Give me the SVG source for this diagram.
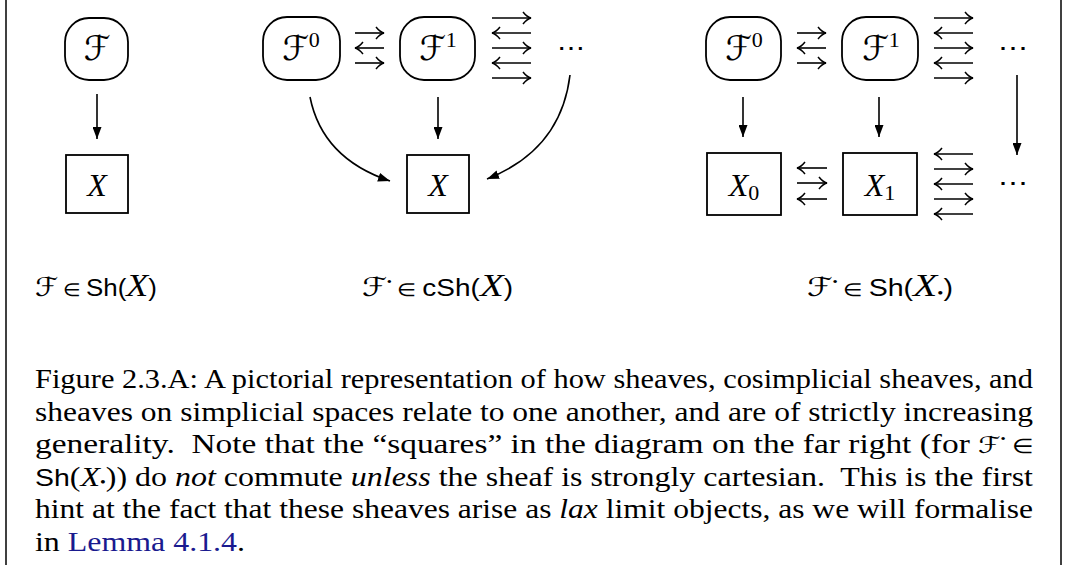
<svg xmlns="http://www.w3.org/2000/svg" width="1069" height="565" viewBox="0 0 1069 565">
<defs>
<style>
.node{fill:#fff;stroke:#000;stroke-width:1.8}
.ar{stroke:#000;stroke-width:1.6;fill:none}
.m{font-family:"Liberation Serif",serif;font-style:italic;font-size:32px}
.scr{font-family:"DejaVu Sans",sans-serif;font-style:italic}
.sans{font-family:"Liberation Sans","DejaVu Sans",sans-serif;font-style:normal}
.up{font-family:"Liberation Serif",serif;font-style:normal}
.cap{font-family:"Liberation Serif",serif;font-size:27px;fill:#000}
.lab{font-family:"Liberation Sans",sans-serif;font-size:23px}
.dots{font-family:"DejaVu Sans",sans-serif;font-size:24px}
</style>
<marker id="tri" viewBox="0 0 12 9" refX="12" refY="4.5" markerWidth="12" markerHeight="9" markerUnits="userSpaceOnUse" orient="auto"><path d="M0,0 L12,4.5 L0,9 z" fill="#000"/></marker>
<marker id="tex" viewBox="-10 -7 11 14" refX="0" refY="0" markerWidth="11" markerHeight="14" markerUnits="userSpaceOnUse" orient="auto"><path d="M-8,-6 Q-4,-1 0,0 Q-4,1 -8,6" fill="none" stroke="#000" stroke-width="1.5"/></marker>
</defs>
<rect x="0" y="0" width="1069" height="565" fill="#fff"/>
<line x1="6" y1="0" x2="6" y2="565" stroke="#000" stroke-width="1.5"/>
<line x1="1061" y1="0" x2="1061" y2="565" stroke="#000" stroke-width="1.5"/>

<!-- left diagram -->
<g id="n-F">
<rect class="node" x="65" y="18" width="63" height="62" rx="24"/>
<text class="scr" x="97" y="60" font-size="34" text-anchor="middle">ℱ</text>
</g>
<g id="n-X">
<rect class="node" x="66" y="155" width="62" height="58"/>
<text class="m" x="97" y="196" text-anchor="middle">X</text>
</g>

<!-- middle diagram -->
<g id="n-F0m">
<rect class="node" x="263" y="17" width="77" height="63" rx="24"/>
<text x="301" y="60" text-anchor="middle"><tspan class="scr" font-size="34">ℱ</tspan><tspan class="up" font-size="22" dy="-13">0</tspan></text>
</g>
<g id="n-F1m">
<rect class="node" x="400" y="17" width="75" height="63" rx="24"/>
<text x="438" y="60" text-anchor="middle"><tspan class="scr" font-size="34">ℱ</tspan><tspan class="up" font-size="22" dy="-13">1</tspan></text>
</g>
<g id="n-Xm">
<rect class="node" x="407" y="155" width="62" height="58"/>
<text class="m" x="438" y="196" text-anchor="middle">X</text>
</g>
<g id="n-dotsm"><text class="dots" x="557" y="56" textLength="28" lengthAdjust="spacingAndGlyphs">⋯</text></g>

<!-- right diagram -->
<g id="n-F0r">
<rect class="node" x="706" y="17" width="75" height="63" rx="24"/>
<text x="744" y="60" text-anchor="middle"><tspan class="scr" font-size="34">ℱ</tspan><tspan class="up" font-size="22" dy="-13">0</tspan></text>
</g>
<g id="n-F1r">
<rect class="node" x="842" y="17" width="76" height="63" rx="24"/>
<text x="881" y="60" text-anchor="middle"><tspan class="scr" font-size="34">ℱ</tspan><tspan class="up" font-size="22" dy="-13">1</tspan></text>
</g>
<g id="n-X0">
<rect class="node" x="707" y="153" width="74" height="62"/>
<text x="744" y="196" text-anchor="middle"><tspan class="m">X</tspan><tspan class="up" font-size="22" dy="4">0</tspan></text>
</g>
<g id="n-X1">
<rect class="node" x="843" y="153" width="74" height="62"/>
<text x="880" y="196" text-anchor="middle"><tspan class="m">X</tspan><tspan class="up" font-size="22" dy="4">1</tspan></text>
</g>
<g id="n-dotsr1"><text class="dots" x="998" y="56" textLength="30" lengthAdjust="spacingAndGlyphs">⋯</text></g>
<g id="n-dotsr2"><text class="dots" x="998" y="191" textLength="30" lengthAdjust="spacingAndGlyphs">⋯</text></g>

<g id="connectors">
<!-- left -->
<line class="ar" x1="97" y1="94" x2="97" y2="139" marker-end="url(#tri)"/>
<!-- middle -->
<line class="ar" x1="438" y1="97" x2="438" y2="139" marker-end="url(#tri)"/>
<path class="ar" d="M310,97 C318,137 345,166 390,181" marker-end="url(#tri)"/>
<path class="ar" d="M570,75 C564,125 535,160 487,179" marker-end="url(#tri)"/>
<line class="ar" x1="355" y1="33" x2="384" y2="33" marker-end="url(#tex)"/>
<line class="ar" x1="384" y1="48" x2="355" y2="48" marker-end="url(#tex)"/>
<line class="ar" x1="355" y1="63" x2="384" y2="63" marker-end="url(#tex)"/>
<line class="ar" x1="492" y1="18" x2="531" y2="18" marker-end="url(#tex)"/>
<line class="ar" x1="531" y1="33" x2="492" y2="33" marker-end="url(#tex)"/>
<line class="ar" x1="492" y1="48" x2="531" y2="48" marker-end="url(#tex)"/>
<line class="ar" x1="531" y1="63" x2="492" y2="63" marker-end="url(#tex)"/>
<line class="ar" x1="492" y1="78" x2="531" y2="78" marker-end="url(#tex)"/>
<!-- right -->
<line class="ar" x1="743" y1="97" x2="743" y2="137" marker-end="url(#tri)"/>
<line class="ar" x1="879" y1="97" x2="879" y2="137" marker-end="url(#tri)"/>
<line class="ar" x1="1017" y1="75" x2="1017" y2="155" marker-end="url(#tri)"/>
<line class="ar" x1="797" y1="33" x2="826" y2="33" marker-end="url(#tex)"/>
<line class="ar" x1="826" y1="48" x2="797" y2="48" marker-end="url(#tex)"/>
<line class="ar" x1="797" y1="63" x2="826" y2="63" marker-end="url(#tex)"/>
<line class="ar" x1="934" y1="18" x2="973" y2="18" marker-end="url(#tex)"/>
<line class="ar" x1="973" y1="33" x2="934" y2="33" marker-end="url(#tex)"/>
<line class="ar" x1="934" y1="48" x2="973" y2="48" marker-end="url(#tex)"/>
<line class="ar" x1="973" y1="63" x2="934" y2="63" marker-end="url(#tex)"/>
<line class="ar" x1="934" y1="78" x2="973" y2="78" marker-end="url(#tex)"/>
<line class="ar" x1="827" y1="168" x2="797" y2="168" marker-end="url(#tex)"/>
<line class="ar" x1="797" y1="183" x2="827" y2="183" marker-end="url(#tex)"/>
<line class="ar" x1="827" y1="199" x2="797" y2="199" marker-end="url(#tex)"/>
<line class="ar" x1="973" y1="154" x2="934" y2="154" marker-end="url(#tex)"/>
<line class="ar" x1="934" y1="169" x2="973" y2="169" marker-end="url(#tex)"/>
<line class="ar" x1="973" y1="184" x2="934" y2="184" marker-end="url(#tex)"/>
<line class="ar" x1="934" y1="199" x2="973" y2="199" marker-end="url(#tex)"/>
<line class="ar" x1="973" y1="214" x2="934" y2="214" marker-end="url(#tex)"/>
</g>

<!-- labels -->
<g id="labels">
<text class="lab" x="35" y="296" textLength="122" lengthAdjust="spacingAndGlyphs"><tspan class="scr" font-size="26">ℱ</tspan><tspan class="up" font-size="18"> ∈ </tspan><tspan class="sans">Sh(</tspan><tspan class="m" font-size="26">X</tspan><tspan class="sans">)</tspan></text>
<text class="lab" x="362" y="296" textLength="151" lengthAdjust="spacingAndGlyphs"><tspan class="scr" font-size="26">ℱ</tspan><tspan class="up" font-size="12" dy="-10">•</tspan><tspan class="up" font-size="18" dy="10"> ∈ </tspan><tspan class="sans">cSh(</tspan><tspan class="m" font-size="26">X</tspan><tspan class="sans">)</tspan></text>
<text class="lab" x="807" y="296" textLength="146" lengthAdjust="spacingAndGlyphs"><tspan class="scr" font-size="26">ℱ</tspan><tspan class="up" font-size="12" dy="-10">•</tspan><tspan class="up" font-size="18" dy="10"> ∈ </tspan><tspan class="sans">Sh(</tspan><tspan class="m" font-size="26">X</tspan><tspan class="up" font-size="14" dy="2">•</tspan><tspan class="sans" dy="-2">)</tspan></text>
</g>

<!-- caption -->
<g id="caption">
<text class="cap" x="35" y="388" textLength="998" lengthAdjust="spacingAndGlyphs">Figure 2.3.A: A pictorial representation of how sheaves, cosimplicial sheaves, and</text>
<text class="cap" x="35" y="421" textLength="998" lengthAdjust="spacingAndGlyphs">sheaves on simplicial spaces relate to one another, and are of strictly increasing</text>
<text class="cap" x="35" y="453" textLength="998" lengthAdjust="spacingAndGlyphs">generality.&#160; Note that the “squares” in the diagram on the far right (for <tspan class="scr" font-size="23">ℱ</tspan><tspan font-size="12" dy="-10">•</tspan><tspan dy="10" font-size="20"> ∈</tspan></text>
<text class="cap" x="35" y="486" textLength="998" lengthAdjust="spacingAndGlyphs"><tspan class="sans" font-size="24">Sh</tspan>(<tspan font-style="italic">X</tspan><tspan font-size="14" dy="1">•</tspan><tspan dy="-1">))</tspan> do <tspan font-style="italic">not</tspan> commute <tspan font-style="italic">unless</tspan> the sheaf is strongly cartesian.&#160; This is the first</text>
<text class="cap" x="35" y="518" textLength="998" lengthAdjust="spacingAndGlyphs">hint at the fact that these sheaves arise as <tspan font-style="italic">lax</tspan> limit objects, as we will formalise</text>
<text class="cap" x="35" y="551" textLength="210" lengthAdjust="spacingAndGlyphs">in <tspan fill="#1a1a8f">Lemma 4.1.4</tspan>.</text>
</g>
</svg>
